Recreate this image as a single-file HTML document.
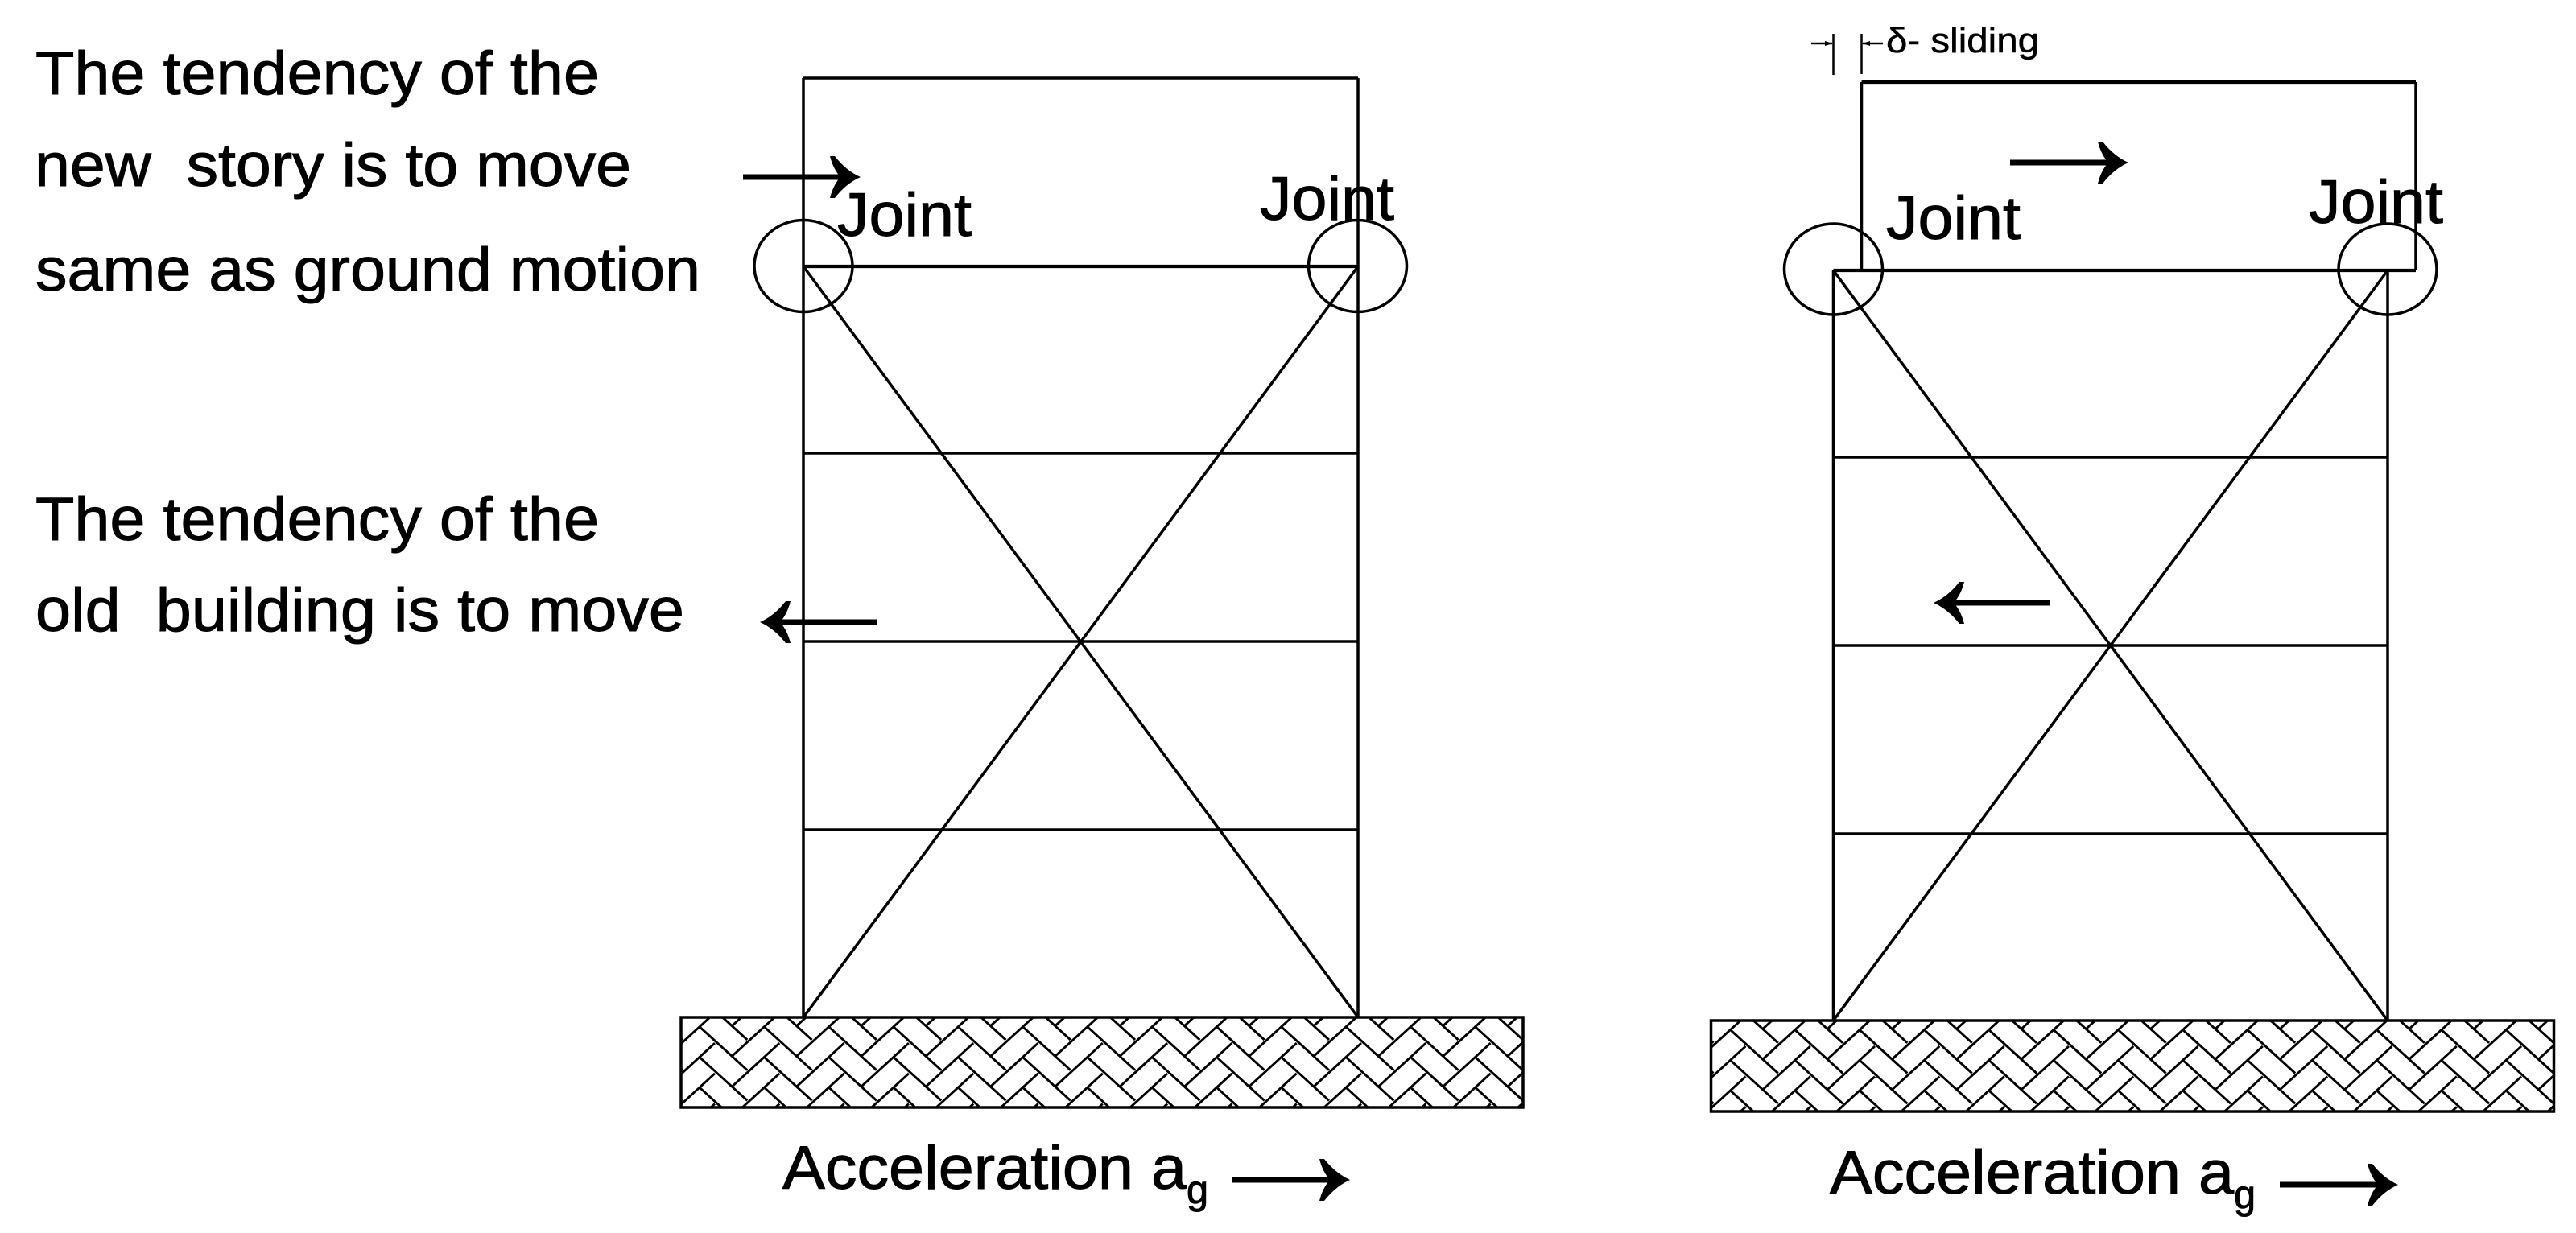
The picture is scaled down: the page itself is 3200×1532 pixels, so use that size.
<!DOCTYPE html>
<html>
<head>
<meta charset="utf-8">
<style>
html,body{margin:0;padding:0;background:#fff;}
svg{display:block;}
text{font-family:"Liberation Sans",sans-serif;fill:#000;stroke:#000;stroke-width:1px;white-space:pre;}
.t{font-size:76px;}
</style>
</head>
<body>
<svg xmlns="http://www.w3.org/2000/svg" width="3200" height="1532" viewBox="0 0 3200 1532">
<defs>
<path id="u" d="M0 0L58.3 53M40 35L98.3 -18.3" fill="none" stroke="#000" stroke-width="2.9"/>
<g id="col">
<use href="#u" y="-75.4"/><use href="#u" y="-37.7"/><use href="#u" y="0"/><use href="#u" y="37.7"/><use href="#u" y="75.4"/><use href="#u" y="113.1"/><use href="#u" y="150.8"/>
</g>
<g id="hatch">
<use href="#col" x="-80.3"/><use href="#col" x="0"/><use href="#col" x="80.3"/><use href="#col" x="160.6"/><use href="#col" x="240.9"/><use href="#col" x="321.2"/><use href="#col" x="401.5"/><use href="#col" x="481.8"/><use href="#col" x="562.1"/><use href="#col" x="642.4"/><use href="#col" x="722.7"/><use href="#col" x="803"/><use href="#col" x="883.3"/><use href="#col" x="963.6"/><use href="#col" x="1043.9"/>
</g>
<clipPath id="cL"><rect x="846" y="1264" width="1046" height="112"/></clipPath>
<clipPath id="cR"><rect x="2125.5" y="1268" width="1047" height="113"/></clipPath>
<path id="head" d="M0 0Q-18 -8 -32 -26L-38 -26Q-34 -10 -25 0Q-34 10 -38 26L-32 26Q-18 8 0 0Z" fill="#000"/>
</defs>
<rect width="3200" height="1532" fill="#fff"/>

<!-- Left frame -->
<g fill="none" stroke="#000" stroke-width="3.5">
<path d="M998 97H1687M998 97V1264M1687 97V1264"/>
<path d="M998 563H1687M998 797H1687M998 1031H1687" />
<path d="M998 331L1687 1264M1687 331L998 1264"/>
<ellipse cx="998" cy="330.5" rx="61" ry="57"/>
<ellipse cx="1686.5" cy="330.5" rx="61" ry="57"/>
<path d="M998 331H1687" stroke-width="4.2"/>
</g>
<g clip-path="url(#cL)"><use href="#hatch" x="870" y="1276.7"/></g>
<rect x="846" y="1264" width="1046" height="112" fill="none" stroke="#000" stroke-width="3.5"/>

<!-- Right frame -->
<g fill="none" stroke="#000" stroke-width="3.5">
<path d="M2277.5 336V1268M2966 336V1268"/>
<path d="M2312.5 102V336M3001 102V336"/>
<path d="M2312.5 102H3001" stroke-width="4.2"/>
<path d="M2277.5 336H3001" stroke-width="4.2"/>
<path d="M2277.5 568H2966M2277.5 802H2966M2277.5 1036H2966"/>
<path d="M2277.5 336L2966 1268M2966 336L2277.5 1268"/>
<ellipse cx="2277.5" cy="334.5" rx="61" ry="56.5"/>
<ellipse cx="2966" cy="334.5" rx="61" ry="56.5"/>
<path d="M2277.5 42V93M2312.5 42V92" stroke-width="2.5"/>
<path d="M2250 54H2276M2314 54H2339" stroke-width="2.5"/>
</g>
<path d="M2277 54l-10 -3v6zM2313 54l10 -3v6z" fill="#000"/>
<g clip-path="url(#cR)"><use href="#hatch" x="2150.5" y="1280.5"/></g>
<rect x="2125.5" y="1268" width="1047" height="113" fill="none" stroke="#000" stroke-width="3.5"/>

<!-- Arrows -->
<g fill="#000">
<rect x="923" y="216.5" width="122" height="7"/><use href="#head" transform="translate(1069 220)"/>
<rect x="968" y="769.5" width="122" height="7.5"/><use href="#head" transform="translate(944 773) scale(-1 1)"/>
<rect x="1531" y="1462.5" width="122" height="7"/><use href="#head" transform="translate(1677 1466)"/>
<rect x="2497" y="198.5" width="123" height="7"/><use href="#head" transform="translate(2644 202)"/>
<rect x="2426" y="745.5" width="121" height="7"/><use href="#head" transform="translate(2402 749) scale(-1 1)"/>
<rect x="2832" y="1468.5" width="123" height="7"/><use href="#head" transform="translate(2979 1472)"/>
</g>

<!-- Text -->
<text class="t" x="44" y="117" textLength="700" lengthAdjust="spacingAndGlyphs">The tendency of the</text>
<text class="t" x="43" y="231" textLength="741" lengthAdjust="spacingAndGlyphs">new  story is to move</text>
<text class="t" x="44" y="361" textLength="826" lengthAdjust="spacingAndGlyphs">same as ground motion</text>
<text class="t" x="44" y="671" textLength="700" lengthAdjust="spacingAndGlyphs">The tendency of the</text>
<text class="t" x="44" y="784" textLength="806" lengthAdjust="spacingAndGlyphs">old  building is to move</text>

<text class="t" x="1040" y="293" textLength="167" lengthAdjust="spacingAndGlyphs">Joint</text>
<text class="t" x="1565" y="273" textLength="167" lengthAdjust="spacingAndGlyphs">Joint</text>
<text class="t" x="2343" y="297" textLength="167" lengthAdjust="spacingAndGlyphs">Joint</text>
<text class="t" x="2868" y="277" textLength="167" lengthAdjust="spacingAndGlyphs">Joint</text>

<text class="t" x="972" y="1477" textLength="502" lengthAdjust="spacingAndGlyphs">Acceleration a</text>
<text x="1474" y="1495" font-size="50" textLength="27" lengthAdjust="spacingAndGlyphs">g</text>
<text class="t" x="2273" y="1483" textLength="502" lengthAdjust="spacingAndGlyphs">Acceleration a</text>
<text x="2775" y="1501" font-size="50" textLength="27" lengthAdjust="spacingAndGlyphs">g</text>

<text x="2343" y="65" font-size="44" textLength="190" lengthAdjust="spacingAndGlyphs" style="stroke-width:.5px">δ- sliding</text>
</svg>
</body>
</html>
